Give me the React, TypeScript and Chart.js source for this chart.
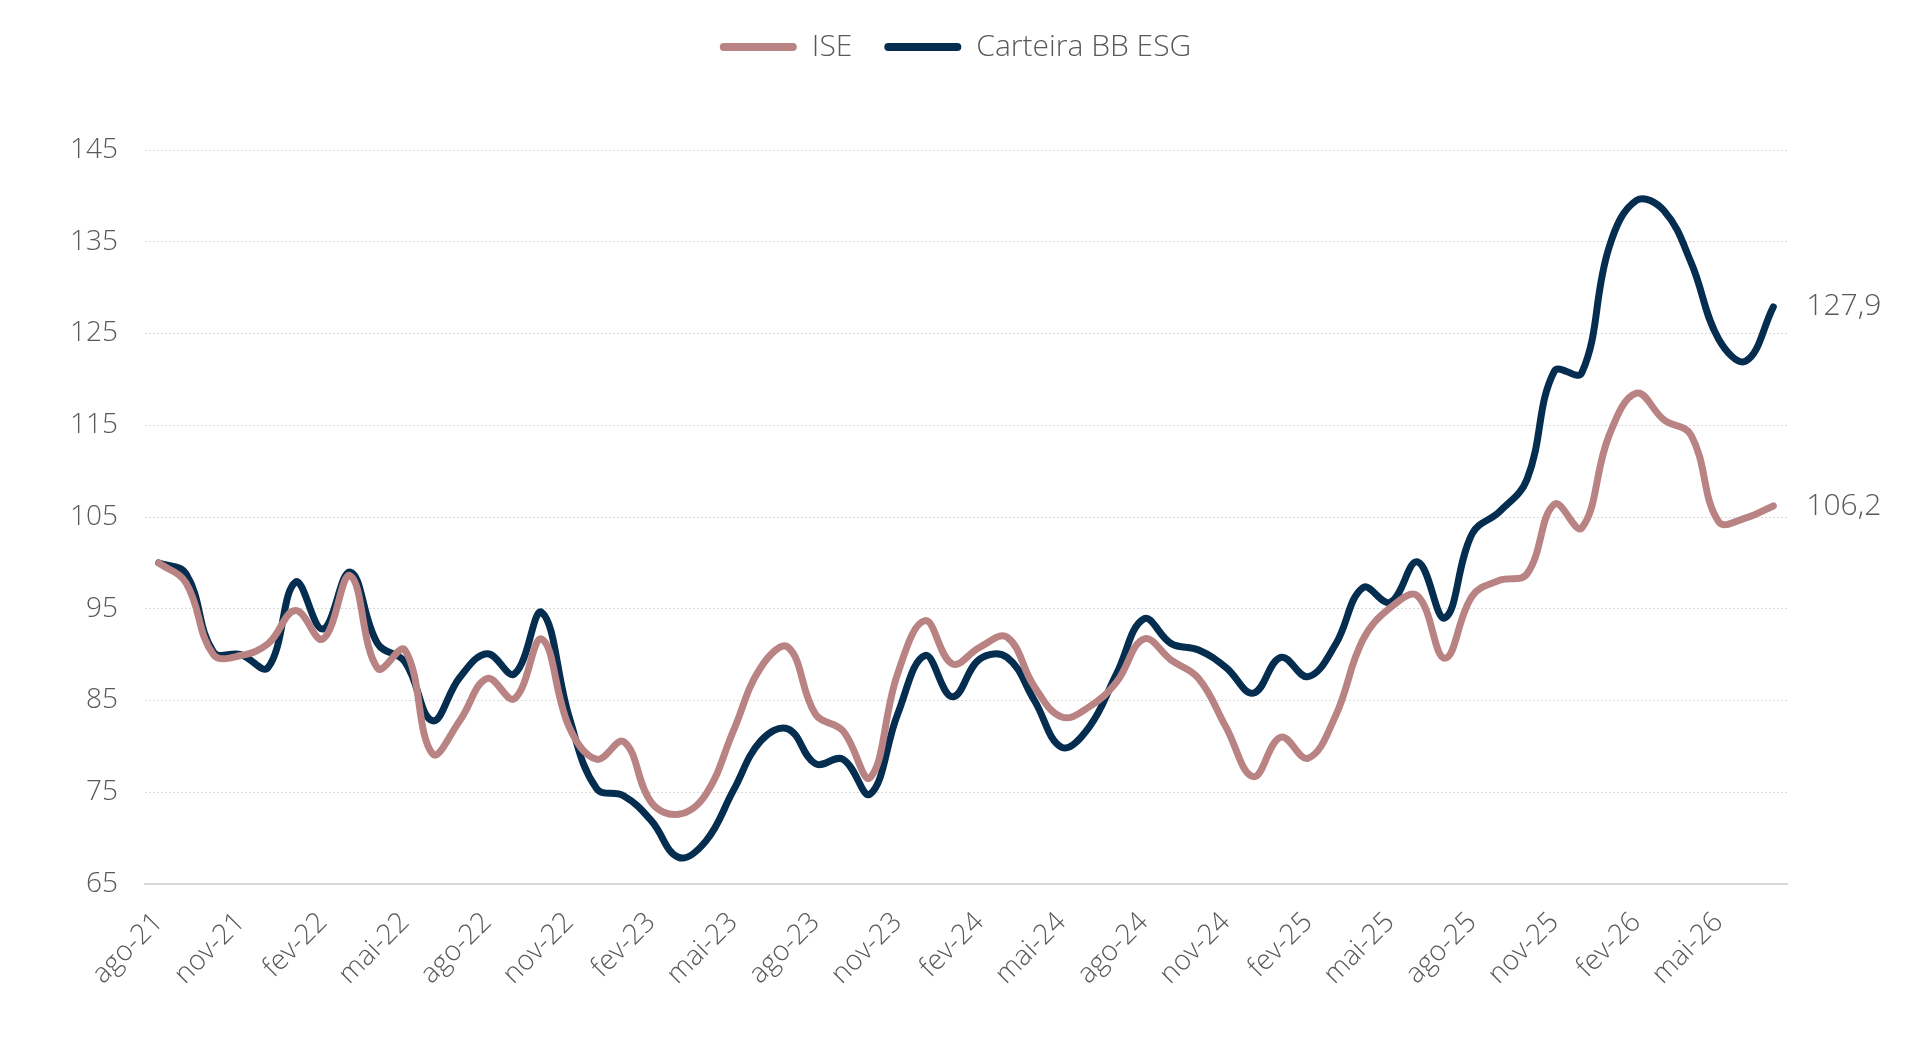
import React from "react"
import { Chart, registerables } from "chart.js"

Chart.register(...registerables)

const months = [
  "ago-21", "set-21", "out-21", "nov-21", "dez-21", "jan-22", "fev-22", "mar-22", "abr-22", "mai-22",
  "jun-22", "jul-22", "ago-22", "set-22", "out-22", "nov-22", "dez-22", "jan-23", "fev-23", "mar-23",
  "abr-23", "mai-23", "jun-23", "jul-23", "ago-23", "set-23", "out-23", "nov-23", "dez-23", "jan-24",
  "fev-24", "mar-24", "abr-24", "mai-24", "jun-24", "jul-24", "ago-24", "set-24", "out-24", "nov-24",
  "dez-24", "jan-25", "fev-25", "mar-25", "abr-25", "mai-25", "jun-25", "jul-25", "ago-25", "set-25",
  "out-25", "nov-25", "dez-25", "jan-26", "fev-26", "mar-26", "abr-26", "mai-26", "jun-26", "jul-26",
]

const ise = [
  100.0, 97.8, 90.0, 89.9, 91.2, 94.8, 91.7, 98.6, 88.5, 90.5,
  79.2, 82.8, 87.4, 85.2, 91.7, 82.1, 78.6, 80.5, 73.9, 72.6,
  74.8, 81.7, 88.6, 90.8, 83.5, 81.7, 76.6, 87.9, 93.7, 89.0,
  90.8, 91.9, 86.5, 83.2, 84.3, 87.0, 91.7, 89.4, 87.4, 82.1,
  76.7, 81.0, 78.7, 83.3, 91.6, 95.1, 96.4, 89.6, 96.4, 98.1,
  98.8, 106.4, 103.8, 113.9, 118.5, 115.6, 113.9, 104.5, 104.9, 106.2,
]

const carteira = [
  100.0, 98.8, 90.3, 90.0, 88.6, 97.9, 92.8, 99.0, 91.2, 89.2,
  82.8, 87.5, 90.1, 87.9, 94.6, 83.2, 75.4, 74.6, 71.9, 67.9,
  69.7, 75.2, 80.6, 81.9, 78.1, 78.6, 74.8, 83.5, 89.9, 85.4,
  89.5, 89.7, 85.0, 79.9, 82.1, 87.9, 93.9, 91.2, 90.5, 88.6,
  85.8, 89.7, 87.6, 91.1, 97.3, 95.7, 100.1, 94.0, 103.2, 105.6,
  109.1, 120.9, 120.7, 134.4, 139.5, 138.4, 132.7, 124.4, 122.0, 127.9,
]

const FONT = "'Open Sans', 'Noto Sans', sans-serif"
const TEXT = "#595959"
const GRID = "#d9d9d9"

// writes the last value of each line to its right, e.g. "127,9"
const lastValueLabels = {
  id: "lastValueLabels",
  afterDatasetsDraw(chart: any) {
    const ctx = chart.ctx
    ctx.save()
    ctx.font = `300 30px ${FONT}`
    ctx.fillStyle = TEXT
    ctx.textAlign = "left"
    ctx.textBaseline = "middle"
    chart.data.datasets.forEach((ds: any, i: number) => {
      const pts = chart.getDatasetMeta(i).data
      const last = pts[pts.length - 1]
      const v = ds.data[ds.data.length - 1]
      ctx.fillText(v.toFixed(1).replace(".", ","), last.x + 33, last.y)
    })
    ctx.restore()
  },
}

// keeps the plot top where the reference has it, and centres the legend
// on the plot instead of the padded canvas
const legendPlace = {
  id: "legendPlace",
  beforeInit(chart: any) {
    const legend = chart.legend
    const fit = legend.fit
    legend.fit = function () {
      fit.bind(legend)()
      this.height = 150
    }
  },
  afterLayout(chart: any) {
    chart.legend.right += 124
  },
}

const LineChart = () => {
  const chartRef = React.useRef<HTMLCanvasElement>(null)

  React.useEffect(() => {
    document.body.style.margin = "0"
    if (chartRef.current == null) {
      return
    }

    const chart = new Chart(chartRef.current, {
      type: "line",
      data: {
        labels: months,
        datasets: [
          {
            label: "ISE",
            data: ise,
            borderColor: "#BA8383",
            backgroundColor: "#BA8383",
            borderWidth: 7,
            pointRadius: 0,
            tension: 0.4,
            borderCapStyle: "round",
            borderJoinStyle: "round",
          },
          {
            label: "Carteira BB ESG",
            data: carteira,
            borderColor: "#042D4F",
            backgroundColor: "#042D4F",
            borderWidth: 7,
            pointRadius: 0,
            tension: 0.4,
            borderCapStyle: "round",
            borderJoinStyle: "round",
          },
        ],
      },
      options: {
        animation: false,
        responsive: true,
        maintainAspectRatio: false,
        layout: {
          padding: { top: 0, right: 133, bottom: 0, left: 0 },
        },
        plugins: {
          tooltip: { enabled: false },
          legend: {
            position: "top",
            align: "center",
            labels: {
              font: { family: FONT, size: 30, weight: "300" },
              color: TEXT,
              boxWidth: 77,
              boxHeight: 8,
              padding: 32,
              generateLabels(c: any) {
                return Chart.defaults.plugins.legend.labels
                  .generateLabels(c)
                  .map((item: any) => ({ ...item, lineWidth: 0, borderRadius: 4 }))
              },
              useBorderRadius: true,
              borderRadius: 4,
            },
          },
        },
        scales: {
          x: {
            offset: true,
            grid: { display: false, drawTicks: false },
            border: { display: true, color: GRID, width: 2 },
            ticks: {
              autoSkip: false,
              maxRotation: 45,
              minRotation: 45,
              padding: 22,
              color: TEXT,
              font: { family: FONT, size: 28, weight: "300" },
              callback: (_v: any, i: number) => (i % 3 === 0 ? months[i] : ""),
            },
            afterFit(scale: any) {
              scale.height = 172
            },
          },
          y: {
            min: 65,
            max: 145,
            grid: { color: GRID, lineWidth: 1, drawTicks: false },
            border: { display: false, dash: [2, 2] },
            ticks: {
              stepSize: 10,
              padding: 27,
              color: TEXT,
              font: { family: FONT, size: 28, weight: "300" },
            },
            afterFit(scale: any) {
              scale.width = 145
            },
          },
        },
      },
      plugins: [lastValueLabels, legendPlace],
    })

    return () => {
      chart.destroy()
    }
  }, [])

  return (
    <div style={{ position: "relative", width: 1920, height: 1056 }}>
      <canvas ref={chartRef} />
    </div>
  )
}

export default function App() {
  return <LineChart />
}
